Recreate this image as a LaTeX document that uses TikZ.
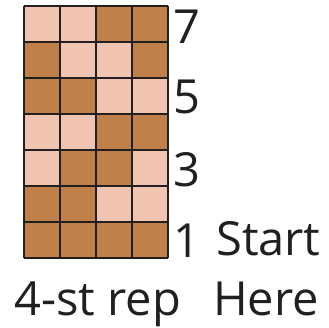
\documentclass[tikz,border=0pt]{standalone}
\usepackage{fontspec}
\setmainfont{Open Sans}
\usepackage{tikz}
\usetikzlibrary{positioning}
\definecolor{darkst}{HTML}{C0804A}
\definecolor{lightst}{HTML}{F0C4B0}
\definecolor{ink}{HTML}{231F20}

\begin{document}
\begin{tikzpicture}[
  x=1pt, y=-1pt,
  lbl/.style={anchor=base west, inner sep=0pt, text=ink, font=\fontsize{47}{47}\selectfont},
]
\useasboundingbox (0,0) rectangle (329,327);
\def\cw{36}  % cell size
% light background of the chart
\fill[lightst] (24,6) rectangle (168,258);
% dark stitches: column/row, row 1 at the bottom
\foreach \c/\r in {3/7,4/7, 1/6,4/6, 1/5,2/5, 3/4,4/4, 2/3,3/3, 1/2,2/2, 1/1,2/1,3/1,4/1} {
  \fill[darkst] ({24+\cw*(\c-1)},{258-\cw*\r}) rectangle ({24+\cw*\c},{258-\cw*(\r-1)});
}
% grid lines
\foreach \i in {0,...,4} {
  \draw[ink, line width=2pt] ({24+\cw*\i},6) -- ({24+\cw*\i},258);
}
\foreach \j in {0,...,7} {
  \draw[ink, line width=2pt] (24,{6+\cw*\j}) -- (168,{6+\cw*\j});
}
% Labels
\node[lbl] (row7) at (173,43) {7};
\node[lbl] (row5) at (173,113) {5};
\node[lbl] (row3) at (173,186) {3};
\node[lbl] (row1) at (173,257) {1};
\node[lbl] (start) at (216,255) {Start};
\node[lbl] (rep) at (14,315) {4-st rep};
\node[lbl] (here) at (213,315) {Here};
\end{tikzpicture}
\end{document}
